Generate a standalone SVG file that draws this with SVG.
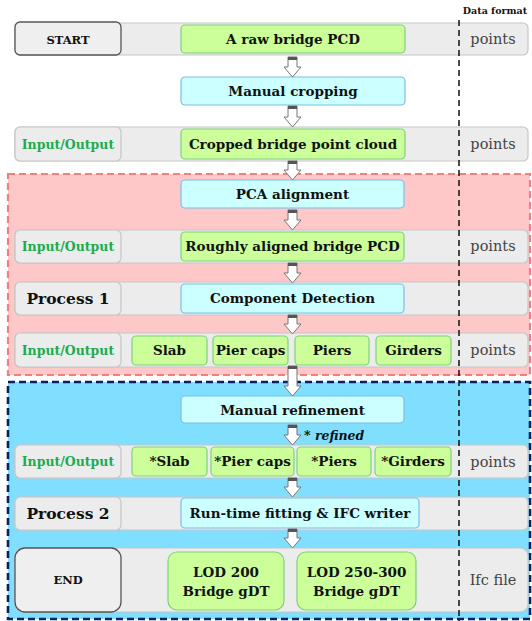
<svg xmlns="http://www.w3.org/2000/svg" width="532" height="621" viewBox="0 0 532 621">
<style>
.bar{fill:#ececec;stroke:#c6c6c6;stroke-width:1.2}
.lbl{fill:#ececec;stroke:#c6c6c6;stroke-width:1.2}
.term{fill:#efefef;stroke:#555;stroke-width:1.3}
.g{fill:#ccff99;stroke:#7fd07f;stroke-width:1.2}
.c{fill:#ccffff;stroke:#7fbbe8;stroke-width:1.2}
.t{font-family:"DejaVu Serif",serif;font-weight:bold;font-size:13.5px;fill:#111;text-anchor:middle}
.io{font-family:"DejaVu Serif",serif;font-weight:bold;font-size:12.5px;fill:#1aad50;text-anchor:middle}
.pr{font-family:"DejaVu Serif",serif;font-weight:bold;font-size:15.5px;fill:#111;text-anchor:middle}
.sm{font-family:"DejaVu Serif",serif;font-weight:bold;font-size:11.5px;fill:#111;text-anchor:middle}
.df{font-family:"DejaVu Serif",serif;font-size:14.5px;fill:#444;text-anchor:middle}
.ar{fill:#fff;stroke:#777;stroke-width:1}
.cap{fill:#555}
</style>
<!-- regions -->
<rect x="8" y="174" width="522" height="201" fill="#ffc8c8" stroke="#f08080" stroke-width="2.2" stroke-dasharray="7,4"/>
<rect x="8" y="382" width="522" height="237" fill="#80dfff" stroke="#0a2060" stroke-width="2.6" stroke-dasharray="7,4"/>
<!-- header -->
<text x="495" y="14" font-family="DejaVu Serif,serif" font-weight="bold" font-size="9.5" fill="#111" text-anchor="middle">Data format</text>

<g id="row1">
<rect class="bar" x="15" y="23" width="513" height="32" rx="5"/>
<rect class="term" x="15" y="22" width="106" height="33" rx="5"/>
<text class="sm" x="68" y="43.5">START</text>
<text class="df" x="493" y="44">points</text>
</g>
<g id="rawPCD"><rect class="g" x="181" y="25" width="224" height="28" rx="4"/><text class="t" x="293" y="44">A raw bridge PCD</text></g>
<g id="manualCropping"><rect class="c" x="181" y="77" width="224" height="28" rx="4"/><text class="t" x="293" y="96">Manual cropping</text></g>

<g id="row2">
<rect class="bar" x="15" y="127" width="513" height="34" rx="5"/>
<rect class="lbl" x="15" y="127" width="106" height="34" rx="5"/>
<text class="io" x="68" y="148.5">Input/Output</text>
<text class="df" x="493" y="149">points</text>
</g>
<g id="croppedPCD"><rect class="g" x="181" y="129" width="224" height="30" rx="4"/><text class="t" x="293" y="149">Cropped bridge point cloud</text></g>

<g id="pca"><rect class="c" x="181" y="180" width="223" height="28" rx="4"/><text class="t" x="292.5" y="199">PCA alignment</text></g>

<g id="row3">
<rect class="bar" x="15" y="230" width="513" height="33" rx="5"/>
<rect class="lbl" x="15" y="230" width="106" height="33" rx="5"/>
<text class="io" x="68" y="250.5">Input/Output</text>
<text class="df" x="493" y="251">points</text>
</g>
<g id="alignedPCD"><rect class="g" x="181" y="232" width="223" height="29" rx="4"/><text class="t" x="292.5" y="251">Roughly aligned bridge PCD</text></g>

<g id="row4">
<rect class="bar" x="15" y="282" width="513" height="33" rx="5"/>
<rect class="lbl" x="15" y="282" width="106" height="33" rx="5"/>
<text class="pr" x="68" y="304">Process 1</text>
</g>
<g id="componentDetection"><rect class="c" x="181" y="284" width="223" height="29" rx="4"/><text class="t" x="292.5" y="303">Component Detection</text></g>

<g id="row5">
<rect class="bar" x="15" y="333" width="513" height="34" rx="5"/>
<rect class="lbl" x="15" y="333" width="106" height="34" rx="5"/>
<text class="io" x="68" y="354.5">Input/Output</text>
<text class="df" x="493" y="355">points</text>
</g>
<g id="slab"><rect class="g" x="132" y="336" width="75" height="29" rx="4"/><text class="t" x="169.5" y="355">Slab</text></g>
<g id="pierCaps"><rect class="g" x="213" y="336" width="75" height="29" rx="4"/><text class="t" x="250.5" y="355">Pier caps</text></g>
<g id="piers"><rect class="g" x="295" y="336" width="74" height="29" rx="4"/><text class="t" x="332" y="355">Piers</text></g>
<g id="girders"><rect class="g" x="376" y="336" width="75" height="29" rx="4"/><text class="t" x="413.5" y="355">Girders</text></g>

<g id="manualRefinement"><rect class="c" x="181" y="396" width="223" height="27" rx="4"/><text class="t" x="292.5" y="414.5">Manual refinement</text></g>

<g id="row6">
<rect class="bar" x="15" y="445" width="513" height="33" rx="5"/>
<rect class="lbl" x="15" y="445" width="106" height="33" rx="5"/>
<text class="io" x="68" y="466">Input/Output</text>
<text class="df" x="493" y="466.5">points</text>
</g>
<g id="rSlab"><rect class="g" x="132" y="447" width="75" height="29" rx="4"/><text class="t" x="169.5" y="466">*Slab</text></g>
<g id="rPierCaps"><rect class="g" x="211" y="447" width="83" height="29" rx="4"/><text class="t" x="252.5" y="466">*Pier caps</text></g>
<g id="rPiers"><rect class="g" x="297" y="447" width="74" height="29" rx="4"/><text class="t" x="334" y="466">*Piers</text></g>
<g id="rGirders"><rect class="g" x="375" y="447" width="76" height="29" rx="4"/><text class="t" x="413" y="466">*Girders</text></g>

<g id="row7">
<rect class="bar" x="15" y="497" width="513" height="33" rx="5"/>
<rect class="lbl" x="15" y="497" width="106" height="33" rx="5"/>
<text class="pr" x="68" y="519">Process 2</text>
</g>
<g id="fitting"><rect class="c" x="181" y="498" width="238" height="30" rx="4"/><text class="t" x="300" y="518">Run-time fitting &amp; IFC writer</text></g>

<g id="row8">
<rect class="bar" x="15" y="548" width="513" height="64" rx="8"/>
<rect class="term" x="15" y="548" width="106" height="64" rx="10"/>
<text class="sm" x="68" y="584">END</text>
<text class="df" x="493" y="585">Ifc file</text>
</g>
<g id="lod200"><rect class="g" x="168" y="552" width="116" height="58" rx="9"/><text class="t" x="226" y="577">LOD 200</text><text class="t" x="226" y="596">Bridge gDT</text></g>
<g id="lod250"><rect class="g" x="297" y="552" width="119" height="58" rx="9"/><text class="t" x="356.5" y="577">LOD 250-300</text><text class="t" x="356.5" y="596">Bridge gDT</text></g>

<line x1="459" y1="20" x2="459" y2="621" stroke="#111" stroke-width="1.5" stroke-dasharray="6,4"/>

<g id="connectors">
<path class="ar" d="M288,57 H297 V67 H301 L292.5,77 L284,67 H288 Z"/><rect class="cap" x="288" y="57" width="9" height="3"/>
<path class="ar" d="M288,106 H297 V117 H301 L292.5,127 L284,117 H288 Z"/><rect class="cap" x="288" y="106" width="9" height="3"/>
<path class="ar" d="M288,161 H297 V170 H301 L292.5,180 L284,170 H288 Z"/><rect class="cap" x="288" y="161" width="9" height="3"/>
<path class="ar" d="M288,210 H297 V220 H301 L292.5,230 L284,220 H288 Z"/><rect class="cap" x="288" y="210" width="9" height="3"/>
<path class="ar" d="M288,263 H297 V273 H301 L292.5,283 L284,273 H288 Z"/><rect class="cap" x="288" y="263" width="9" height="3"/>
<path class="ar" d="M288,315 H297 V324 H301 L292.5,334 L284,324 H288 Z"/><rect class="cap" x="288" y="315" width="9" height="3"/>
<path class="ar" d="M288,366 H297 V386 H301 L292.5,396 L284,386 H288 Z"/><rect class="cap" x="288" y="366" width="9" height="3"/>
<path class="ar" d="M288,425 H297 V435 H301 L292.5,445 L284,435 H288 Z"/><rect class="cap" x="288" y="425" width="9" height="3"/>
<path class="ar" d="M288,478 H297 V487 H301 L292.5,497 L284,487 H288 Z"/><rect class="cap" x="288" y="478" width="9" height="3"/>
<path class="ar" d="M288,529 H297 V538 H301 L292.5,548 L284,538 H288 Z"/><rect class="cap" x="288" y="529" width="9" height="3"/>
<text x="304" y="440" font-family="DejaVu Serif,serif" font-weight="bold" font-style="italic" font-size="12.5" fill="#111">* refined</text>
</g>
</svg>
